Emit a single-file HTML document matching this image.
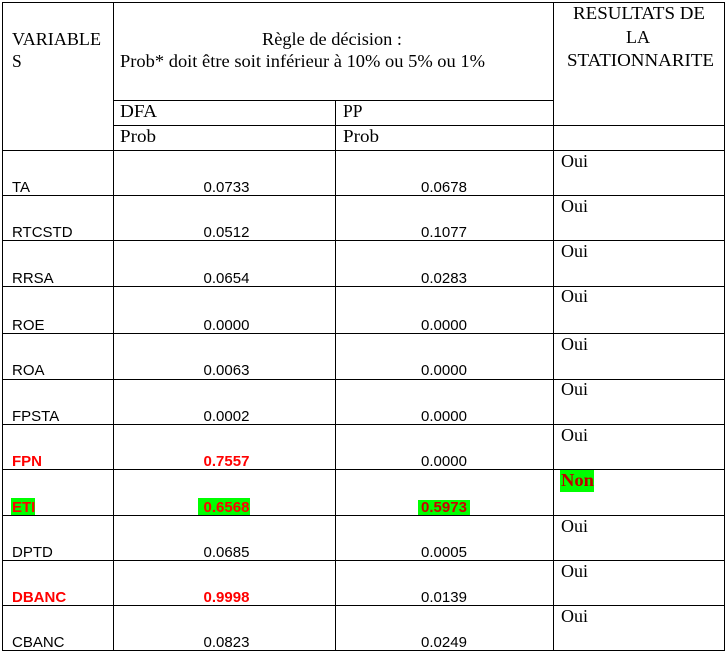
<!DOCTYPE html>
<html>
<head>
<meta charset="utf-8">
<style>
html,body{margin:0;padding:0;background:#fff;}
svg{display:block;}
.s{font-family:"Liberation Serif","Times New Roman",serif;font-size:17.5px;fill:#000;}
.a{font-family:"Liberation Sans",Arial,sans-serif;font-size:15px;fill:#000;}
.b{font-weight:bold;fill:#ff0000;}
</style>
</head>
<body>
<svg width="728" height="654" viewBox="0 0 728 654" xmlns="http://www.w3.org/2000/svg" shape-rendering="crispEdges">
<rect x="0" y="0" width="728" height="654" fill="#fff"/>
<!-- highlights -->
<rect x="11" y="498" width="24" height="17" fill="#00ff00"/>
<rect x="198" y="498" width="52" height="17" fill="#00ff00"/>
<rect x="418" y="500" width="52" height="15" fill="#00ff00"/>
<rect x="560" y="470" width="34" height="22" fill="#00ff00"/>
<g fill="#000">
<!-- verticals -->
<rect x="2" y="2" width="1" height="649"/>
<rect x="724" y="2" width="1" height="649"/>
<rect x="113" y="2" width="1" height="649"/>
<rect x="335" y="100" width="1" height="551"/>
<rect x="553" y="2" width="1" height="649"/>
<!-- horizontals -->
<rect x="2" y="2" width="723" height="1"/>
<rect x="113" y="100" width="441" height="1"/>
<rect x="113" y="125" width="612" height="1"/>
<rect x="2" y="150" width="723" height="1"/>
<rect x="2" y="195" width="723" height="1"/>
<rect x="2" y="240" width="723" height="1"/>
<rect x="2" y="286" width="723" height="1"/>
<rect x="2" y="333" width="723" height="1"/>
<rect x="2" y="379" width="723" height="1"/>
<rect x="2" y="424" width="723" height="1"/>
<rect x="2" y="469" width="723" height="1"/>
<rect x="2" y="515" width="723" height="1"/>
<rect x="2" y="560" width="723" height="1"/>
<rect x="2" y="605" width="723" height="1"/>
<rect x="2" y="650" width="723" height="1"/>
</g>
<!-- header -->
<text class="s" x="12" y="45" textLength="89" lengthAdjust="spacingAndGlyphs">VARIABLE</text>
<text class="s" x="12" y="67">S</text>
<text class="s" x="262" y="45" textLength="140" lengthAdjust="spacingAndGlyphs">Règle de décision :</text>
<text class="s" x="120" y="67" textLength="365" lengthAdjust="spacingAndGlyphs">Prob* doit être soit inférieur à 10% ou 5% ou 1%</text>
<text class="s" x="573" y="19" textLength="132" lengthAdjust="spacingAndGlyphs">RESULTATS DE</text>
<text class="s" x="626" y="43" textLength="24" lengthAdjust="spacingAndGlyphs">LA</text>
<text class="s" x="567" y="66" textLength="147" lengthAdjust="spacingAndGlyphs">STATIONNARITE</text>
<text class="s" x="120" y="117" textLength="37" lengthAdjust="spacingAndGlyphs">DFA</text>
<text class="s" x="343" y="117">PP</text>
<text class="s" x="120" y="142" textLength="36" lengthAdjust="spacingAndGlyphs">Prob</text>
<text class="s" x="343" y="142" textLength="36" lengthAdjust="spacingAndGlyphs">Prob</text>

<!-- body labels -->
<g class="a">
<text x="12" y="192">TA</text>
<text x="12" y="237">RTCSTD</text>
<text x="12" y="283">RRSA</text>
<text x="12" y="330">ROE</text>
<text x="12" y="375">ROA</text>
<text x="12" y="421">FPSTA</text>
<text x="12" y="466" class="b">FPN</text>
<text x="12" y="512" class="b">ETI</text>
<text x="12" y="557">DPTD</text>
<text x="12" y="602" class="b">DBANC</text>
<text x="12" y="647">CBANC</text>
</g>
<!-- DFA values -->
<g class="a" text-anchor="middle">
<text x="226.5" y="192">0.0733</text>
<text x="226.5" y="237">0.0512</text>
<text x="226.5" y="283">0.0654</text>
<text x="226.5" y="330">0.0000</text>
<text x="226.5" y="375">0.0063</text>
<text x="226.5" y="421">0.0002</text>
<text x="226.5" y="466" class="b">0.7557</text>
<text x="226.5" y="512" class="b">0.6568</text>
<text x="226.5" y="557">0.0685</text>
<text x="226.5" y="602" class="b">0.9998</text>
<text x="226.5" y="647">0.0823</text>
</g>
<!-- PP values -->
<g class="a" text-anchor="middle">
<text x="444" y="192">0.0678</text>
<text x="444" y="237">0.1077</text>
<text x="444" y="283">0.0283</text>
<text x="444" y="330">0.0000</text>
<text x="444" y="375">0.0000</text>
<text x="444" y="421">0.0000</text>
<text x="444" y="466">0.0000</text>
<text x="444" y="512" style="fill:#cc0000;font-weight:bold">0.5973</text>
<text x="444" y="557">0.0005</text>
<text x="444" y="602">0.0139</text>
<text x="444" y="647">0.0249</text>
</g>
<!-- results -->
<g class="s">
<text x="561" y="167" textLength="27" lengthAdjust="spacingAndGlyphs">Oui</text>
<text x="561" y="212" textLength="27" lengthAdjust="spacingAndGlyphs">Oui</text>
<text x="561" y="257" textLength="27" lengthAdjust="spacingAndGlyphs">Oui</text>
<text x="561" y="302" textLength="27" lengthAdjust="spacingAndGlyphs">Oui</text>
<text x="561" y="350" textLength="27" lengthAdjust="spacingAndGlyphs">Oui</text>
<text x="561" y="395" textLength="27" lengthAdjust="spacingAndGlyphs">Oui</text>
<text x="561" y="441" textLength="27" lengthAdjust="spacingAndGlyphs">Oui</text>
<text x="561" y="486" textLength="33" lengthAdjust="spacingAndGlyphs" style="font-weight:bold;fill:#c00000">Non</text>
<text x="561" y="532" textLength="27" lengthAdjust="spacingAndGlyphs">Oui</text>
<text x="561" y="577" textLength="27" lengthAdjust="spacingAndGlyphs">Oui</text>
<text x="561" y="622" textLength="27" lengthAdjust="spacingAndGlyphs">Oui</text>
</g>
</svg>
</body>
</html>
